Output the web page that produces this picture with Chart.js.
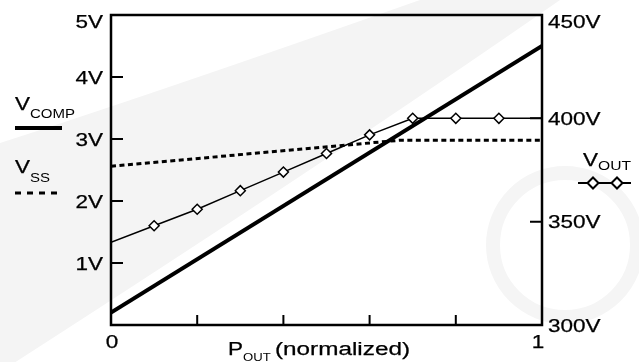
<!DOCTYPE html>
<html>
<head>
<meta charset="utf-8">
<script src="https://cdn.jsdelivr.net/npm/chart.js@4"></script>
<style>
  html, body { margin: 0; padding: 0; background: #fff; }
  #wrap { width: 639px; height: 362px; }
</style>
</head>
<body>
<div id="wrap"><canvas id="chart" width="639" height="362"></canvas></div>
<script>
// normalized output power
const pOut = [0, 0.1, 0.2, 0.3, 0.4, 0.5, 0.6, 0.7, 0.8, 0.9, 1];
const vOut = [340, 348, 356, 365, 374, 383, 392, 400, 400, 400, 400];
const vOutMarks = [0, 5, 5, 5, 5, 5, 5, 5, 5, 5, 0];

const vCompX = [0, 1];
const vComp = [0.2, 4.5];

const vSsX = [0, 0.67, 1];
const vSs = [2.56, 2.98, 2.98];

const leftTicks = [1, 2, 3, 4];
const rightTicks = [350, 400];
const xTicks = [0.2, 0.4, 0.6, 0.8];
const xLabels = [0, 1];

const FONT = '"Liberation Sans", Arial, sans-serif';
const STRETCH = 1.25; // the source lettering is wide

function pts(xs, ys) {
    return xs.map((x, i) => ({ x: x, y: ys[i] }));
}

// wide text, align: left / right / center, y is baseline
function wideText(ctx, txt, x, y, size, align, stretch) {
    const k = stretch || STRETCH;
    ctx.save();
    ctx.font = size + 'px ' + FONT;
    ctx.fillStyle = '#000';
    ctx.strokeStyle = '#000';
    ctx.lineWidth = 0.25;
    ctx.textBaseline = 'alphabetic';
    ctx.textAlign = 'left';
    const w = ctx.measureText(txt).width * k;
    let x0 = x;
    if (align === 'right') x0 = x - w;
    if (align === 'center') x0 = x - w / 2;
    ctx.translate(x0, y);
    ctx.scale(k, 1);
    ctx.fillText(txt, 0, 0);
    if (size >= 16) ctx.strokeText(txt, 0, 0);
    ctx.restore();
    return w;
}

function subText(ctx, x, y, main, sub, drop, subSize) {
    const w = wideText(ctx, main, x, y, 18, 'left');
    return w + wideText(ctx, sub, x + w, y + drop, subSize, 'left');
}

function diamond(ctx, x, y, r) {
    ctx.beginPath();
    ctx.moveTo(x - r, y);
    ctx.lineTo(x, y - r);
    ctx.lineTo(x + r, y);
    ctx.lineTo(x, y + r);
    ctx.closePath();
    ctx.fillStyle = '#fff';
    ctx.fill();
    ctx.stroke();
}

const framePlugin = {
    id: 'frame',
    beforeDraw(chart) {
        // faint watermark swoosh and ring behind everything
        const ctx = chart.ctx;
        ctx.save();
        ctx.fillStyle = '#f4f4f4';
        ctx.beginPath();
        ctx.moveTo(0, 143);
        ctx.quadraticCurveTo(150, 95, 420, 0);
        ctx.lineTo(560, 0);
        ctx.quadraticCurveTo(330, 160, 0, 372);
        ctx.closePath();
        ctx.fill();
        ctx.strokeStyle = '#f5f5f5';
        ctx.lineWidth = 14;
        ctx.beginPath();
        ctx.arc(565, 245, 72, 0, Math.PI * 2);
        ctx.stroke();
        ctx.restore();
    },
    afterDatasetsDraw(chart) {
        const ctx = chart.ctx;
        const a = chart.chartArea;
        const sx = chart.scales.x, sy = chart.scales.y, sy1 = chart.scales.y1;
        ctx.save();
        ctx.strokeStyle = '#000';
        ctx.lineWidth = 2.5;
        ctx.strokeRect(a.left, a.top, a.right - a.left, a.bottom - a.top);

        ctx.lineWidth = 2;
        ctx.beginPath();
        leftTicks.forEach(v => {
            const py = sy.getPixelForValue(v);
            ctx.moveTo(a.left, py);
            ctx.lineTo(a.left + 12, py);
        });
        rightTicks.forEach(v => {
            const py = sy1.getPixelForValue(v);
            ctx.moveTo(a.right, py);
            ctx.lineTo(a.right - 12, py);
        });
        xTicks.forEach(v => {
            const px = sx.getPixelForValue(v);
            ctx.moveTo(px, a.bottom);
            ctx.lineTo(px, a.bottom - 10);
        });
        ctx.stroke();
        ctx.restore();
    },
    afterDraw(chart) {
        const ctx = chart.ctx;
        const sx = chart.scales.x, sy = chart.scales.y, sy1 = chart.scales.y1;
        const a = chart.chartArea;

        // tick labels from the scales
        sy.ticks.forEach(t => {
            if (t.value === 0) return;
            const py = Math.max(sy.getPixelForValue(t.value), a.top + 6.5);
            wideText(ctx, t.value + 'V', a.left - 8, py + 6.5, 18, 'right');
        });
        sy1.ticks.forEach(t => {
            const py = Math.max(sy1.getPixelForValue(t.value), a.top + 6.5);
            wideText(ctx, t.value + 'V', a.right + 6, py + 6.5, 18, 'left');
        });
        xLabels.forEach(v => {
            const nudge = v === 1 ? -4 : 1;
            wideText(ctx, String(v), sx.getPixelForValue(v) + nudge, 348, 18, 'center');
        });

        ctx.save();
        // left legend
        subText(ctx, 15, 110, 'V', 'COMP', 8, 12);
        ctx.strokeStyle = '#000';
        ctx.lineWidth = 4;
        ctx.beginPath();
        ctx.moveTo(15, 128);
        ctx.lineTo(62, 128);
        ctx.stroke();

        subText(ctx, 15, 173, 'V', 'SS', 9, 12);
        ctx.lineWidth = 3;
        ctx.setLineDash([6, 6]);
        ctx.beginPath();
        ctx.moveTo(15, 193);
        ctx.lineTo(60, 193);
        ctx.stroke();
        ctx.setLineDash([]);

        // right legend
        subText(ctx, 583, 166, 'V', 'OUT', 4, 12.5);
        ctx.lineWidth = 2;
        ctx.beginPath();
        ctx.moveTo(578, 183);
        ctx.lineTo(631, 183);
        ctx.stroke();
        diamond(ctx, 593, 183, 5.5);
        diamond(ctx, 617, 183, 5.5);

        // x title
        subText(ctx, 228, 355, 'P', 'OUT', 6, 10.5);
        wideText(ctx, '(normalized)', 275, 355, 18, 'left', 1.35);
        ctx.restore();
    }
};

new Chart(document.getElementById('chart'), {
    type: 'line',
    data: {
        datasets: [
            {
                label: 'VCOMP',
                data: pts(vCompX, vComp),
                yAxisID: 'y',
                borderColor: '#000',
                borderWidth: 4,
                pointRadius: 0
            },
            {
                label: 'VSS',
                data: pts(vSsX, vSs),
                yAxisID: 'y',
                borderColor: '#000',
                borderWidth: 3,
                borderDash: [5, 3.5],
                pointRadius: 0
            },
            {
                label: 'VOUT',
                data: pts(pOut, vOut),
                yAxisID: 'y1',
                borderColor: '#000',
                borderWidth: 1.5,
                pointStyle: 'rectRot',
                pointRadius: vOutMarks,
                pointBackgroundColor: '#fff',
                pointBorderColor: '#000',
                pointBorderWidth: 1.5
            }
        ]
    },
    options: {
        responsive: false,
        animation: false,
        devicePixelRatio: 1,
        layout: { padding: { top: 15, left: 0, right: 0, bottom: 0 } },
        plugins: { legend: { display: false }, tooltip: { enabled: false } },
        scales: {
            x: {
                type: 'linear',
                min: 0, max: 1,
                grid: { display: false, drawTicks: false },
                border: { display: false },
                ticks: { display: false, stepSize: 0.2 },
                afterFit: s => { s.height = 37; }
            },
            y: {
                position: 'left',
                min: 0, max: 5,
                grid: { display: false, drawTicks: false },
                border: { display: false },
                ticks: { display: false, stepSize: 1 },
                afterFit: s => { s.width = 111; }
            },
            y1: {
                position: 'right',
                min: 300, max: 450,
                grid: { display: false, drawTicks: false },
                border: { display: false },
                ticks: { display: false, stepSize: 50 },
                afterFit: s => { s.width = 97; }
            }
        }
    },
    plugins: [framePlugin]
});
</script>
</body>
</html>
